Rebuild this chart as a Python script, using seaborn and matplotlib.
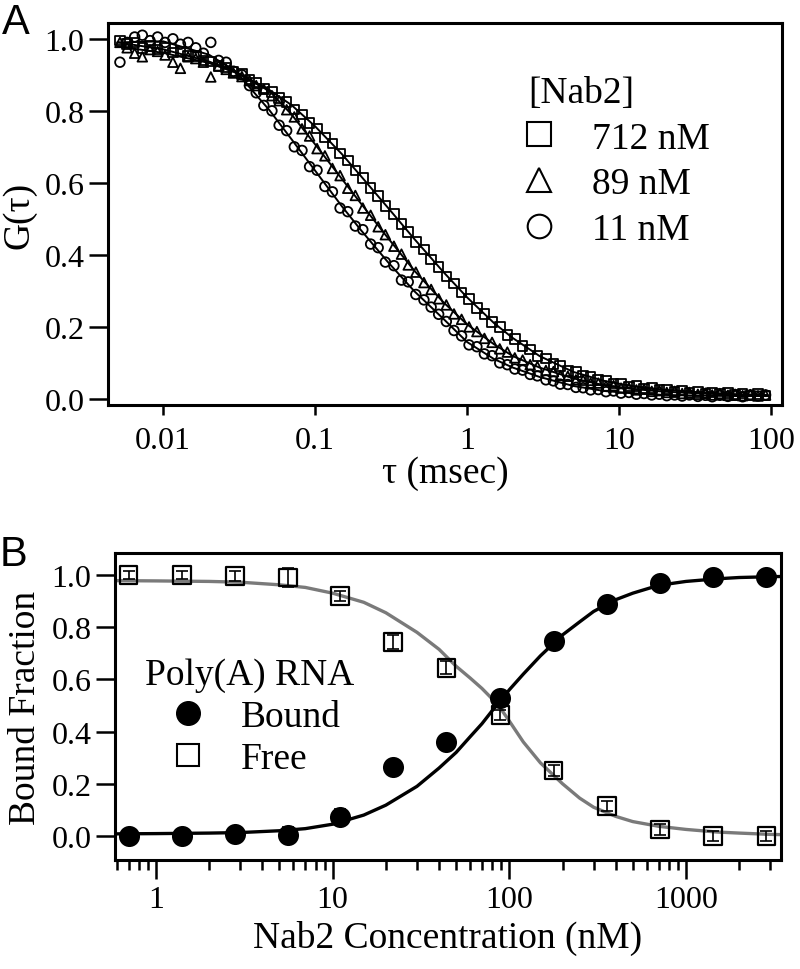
import numpy as np
import pandas as pd
import matplotlib
matplotlib.use("Agg")
import matplotlib.pyplot as plt
from matplotlib.lines import Line2D
import seaborn as sns

# ---------------- Panel A: FCS autocorrelation curves ----------------
tau = [0.0052, 0.0058, 0.0065, 0.0073, 0.0082, 0.0092, 0.0103, 0.0116, 0.013, 0.0146,
       0.0164, 0.0184, 0.0206, 0.0232, 0.026, 0.029, 0.033, 0.037, 0.041, 0.046,
       0.052, 0.058, 0.065, 0.073, 0.082, 0.092, 0.103, 0.116, 0.13, 0.146,
       0.164, 0.184, 0.206, 0.232, 0.26, 0.29, 0.33, 0.37, 0.41, 0.46,
       0.52, 0.58, 0.65, 0.73, 0.82, 0.92, 1.03, 1.16, 1.3, 1.46,
       1.64, 1.84, 2.06, 2.32, 2.6, 2.9, 3.3, 3.7, 4.1, 4.6,
       5.2, 5.8, 6.5, 7.3, 8.2, 9.2, 10.3, 11.6, 13, 14.6,
       16.4, 18.4, 20.6, 23.2, 26, 29, 33, 37, 41, 46,
       52, 58, 65, 73, 82, 92]

g_712 = [0.995, 0.985, 0.99, 0.975, 0.98, 0.97, 0.975, 0.962, 0.965, 0.952,
         0.952, 0.94, 0.937, 0.925, 0.92, 0.908, 0.902, 0.887, 0.879, 0.862,
         0.853, 0.835, 0.825, 0.804, 0.79, 0.767, 0.751, 0.726, 0.709, 0.682,
         0.662, 0.634, 0.614, 0.585, 0.564, 0.535, 0.514, 0.485, 0.464, 0.435,
         0.415, 0.387, 0.367, 0.34, 0.321, 0.295, 0.277, 0.252, 0.236, 0.213,
         0.199, 0.178, 0.166, 0.147, 0.137, 0.12, 0.112, 0.097, 0.091, 0.078,
         0.074, 0.063, 0.061, 0.052, 0.051, 0.043, 0.043, 0.035, 0.036, 0.029,
         0.03, 0.024, 0.026, 0.02, 0.023, 0.017, 0.02, 0.015, 0.018, 0.013,
         0.016, 0.011, 0.015, 0.01, 0.014, 0.01]

g_89 = [0.99, 0.975, 0.96, 0.95, 0.97, 0.965, 0.955, 0.935, 0.918, 0.95,
        0.945, 0.935, 0.894, 0.925, 0.915, 0.905, 0.895, 0.884, 0.87, 0.86,
        0.842, 0.828, 0.803, 0.783, 0.75, 0.73, 0.695, 0.675, 0.64, 0.62,
        0.585, 0.565, 0.53, 0.51, 0.478, 0.456, 0.424, 0.402, 0.372, 0.352,
        0.323, 0.304, 0.278, 0.261, 0.236, 0.221, 0.2, 0.187, 0.168, 0.157,
        0.139, 0.13, 0.114, 0.108, 0.095, 0.09, 0.079, 0.076, 0.065, 0.063,
        0.053, 0.052, 0.044, 0.044, 0.036, 0.037, 0.03, 0.031, 0.025, 0.027,
        0.021, 0.023, 0.018, 0.021, 0.015, 0.018, 0.013, 0.016, 0.011, 0.015,
        0.01, 0.013, 0.009, 0.012, 0.008, 0.011]

g_11 = [0.935, 0.99, 1.005, 1.01, 0.995, 1.005, 0.99, 1.0, 0.985, 0.99,
        0.975, 0.96, 0.99, 0.94, 0.935, 0.91, 0.9, 0.87, 0.85, 0.815,
        0.8, 0.76, 0.745, 0.70, 0.69, 0.645, 0.635, 0.59, 0.575, 0.53,
        0.52, 0.48, 0.47, 0.43, 0.42, 0.38, 0.37, 0.33, 0.325, 0.29,
        0.275, 0.255, 0.235, 0.215, 0.19, 0.175, 0.15, 0.145, 0.125, 0.12,
        0.10, 0.095, 0.083, 0.08, 0.068, 0.064, 0.053, 0.05, 0.041, 0.04,
        0.032, 0.031, 0.025, 0.026, 0.02, 0.022, 0.016, 0.018, 0.013, 0.015,
        0.011, 0.013, 0.009, 0.011, 0.008, 0.011, 0.007, 0.01, 0.006, 0.01,
        0.007, 0.01, 0.006, 0.011, 0.008, 0.011]

# fitted curves
tau_fit = [0.005, 0.01, 0.02, 0.03, 0.05, 0.07, 0.1, 0.15, 0.2, 0.3, 0.45, 0.7,
           1, 1.5, 2, 3, 5, 8, 12, 20, 35, 60, 95]
fit_712 = [0.99, 0.971, 0.937, 0.909, 0.858, 0.816, 0.757, 0.68, 0.619, 0.532, 0.444, 0.352,
           0.282, 0.211, 0.169, 0.119, 0.075, 0.05, 0.036, 0.025, 0.018, 0.013, 0.011]
fit_89 = [0.979, 0.961, 0.933, 0.906, 0.855, 0.79, 0.707, 0.611, 0.543, 0.448, 0.356, 0.268,
          0.207, 0.152, 0.119, 0.087, 0.057, 0.038, 0.028, 0.02, 0.015, 0.011, 0.009]
fit_11 = [0.99, 0.993, 0.956, 0.91, 0.802, 0.721, 0.634, 0.535, 0.469, 0.381, 0.299, 0.222,
          0.158, 0.111, 0.087, 0.061, 0.036, 0.022, 0.016, 0.011, 0.009, 0.008, 0.008]

nab2_labels = ["712 nM", "89 nM", "11 nM"]

# ---------------- Panel B: binding titration ----------------
conc = [0.7, 1.4, 2.8, 5.6, 11, 22, 44, 89, 178, 356, 712, 1424, 2848]
bound = [0.0, 0.0, 0.008, 0.005, 0.073, 0.264, 0.36, 0.53, 0.748, 0.889, 0.969, 0.993, 0.993]
bound_err = [0.02, 0.015, 0.015, 0.03, 0.03, 0.02, 0.02, 0.02, 0.02, 0.02, 0.02, 0.015, 0.015]
free = [1.0, 1.0, 0.996, 0.99, 0.92, 0.743, 0.644, 0.464, 0.25, 0.115, 0.024, 0.0, 0.0]
free_err = [0.015, 0.015, 0.02, 0.035, 0.02, 0.025, 0.025, 0.02, 0.02, 0.02, 0.02, 0.02, 0.02]

conc_fit = [0.6, 1, 2, 3, 5, 7, 10, 15, 20, 30, 40, 50, 60, 70, 80, 90, 100, 120, 150,
            200, 250, 300, 400, 500, 700, 1000, 1500, 2000, 3000, 3500]
bound_fit = [0.008, 0.009, 0.011, 0.013, 0.02, 0.028, 0.045, 0.08, 0.118, 0.19, 0.26, 0.32,
             0.38, 0.43, 0.48, 0.52, 0.56, 0.62, 0.69, 0.77, 0.82, 0.86, 0.905, 0.93, 0.96,
             0.975, 0.985, 0.99, 0.993, 0.994]
free_fit = [0.978, 0.977, 0.975, 0.972, 0.962, 0.952, 0.93, 0.895, 0.855, 0.78, 0.715, 0.65,
            0.605, 0.565, 0.525, 0.485, 0.44, 0.36, 0.28, 0.2, 0.145, 0.11, 0.075, 0.055,
            0.037, 0.025, 0.015, 0.011, 0.006, 0.005]

sns.set_style("ticks")
plt.rcParams['font.family'] = ['Liberation Serif', 'DejaVu Serif']
plt.rcParams.update({
    "axes.edgecolor": "black", "axes.labelcolor": "black", "text.color": "black",
    "xtick.color": "black", "ytick.color": "black",
})

fig = plt.figure(figsize=(8, 9.7), dpi=100)
axA = fig.add_axes([0.135, 0.5814, 0.8425, 0.3939])
axB = fig.add_axes([0.14375, 0.1124, 0.8325, 0.3165])

TICK_FS = 23
LABEL_FS = 27

# --- panel A
dfA = pd.DataFrame({
    "tau": tau * 3,
    "G": g_712 + g_89 + g_11,
    "Nab2": [nab2_labels[0]] * len(tau) + [nab2_labels[1]] * len(tau) + [nab2_labels[2]] * len(tau),
})
markers_A = {"712 nM": "s", "89 nM": "^", "11 nM": "o"}
for lab, fit in zip(nab2_labels, [fit_712, fit_89, fit_11]):
    sub = dfA[dfA["Nab2"] == lab]
    sns.scatterplot(data=sub, x="tau", y="G", marker=markers_A[lab], s=48,
                    color="black", facecolor="none", edgecolor="black",
                    linewidth=1.3, ax=axA, legend=False, zorder=3)
    sns.lineplot(x=tau_fit, y=fit, color="black", lw=1.4, ax=axA, zorder=2)

axA.set_xscale("log")
axA.set_xlim(0.00434, 118)
axA.set_ylim(-0.017, 1.044)
axA.set_xticks([0.01, 0.1, 1, 10, 100])
axA.set_xticklabels(["0.01", "0.1", "1", "10", "100"])
axA.xaxis.set_minor_locator(matplotlib.ticker.NullLocator())
axA.set_yticks([0.0, 0.2, 0.4, 0.6, 0.8, 1.0])
axA.set_yticklabels(["0.0", "0.2", "0.4", "0.6", "0.8", "1.0"])
axA.tick_params(axis="y", length=14, width=1.8, labelsize=TICK_FS, pad=3)
axA.tick_params(axis="x", length=7, width=1.8, labelsize=TICK_FS, pad=8)
axA.set_xlabel("τ (msec)", fontsize=LABEL_FS, labelpad=0)
axA.set_ylabel("G(τ)", fontsize=LABEL_FS, labelpad=6)

handlesA = [Line2D([], [], ls="none", marker=markers_A[l], ms=17, mfc="none",
                   mec="black", mew=1.5) for l in nab2_labels]
axA.legend(handlesA, nab2_labels, title="[Nab2]", loc="upper left",
           bbox_to_anchor=(0.623, 0.863), frameon=False, fontsize=LABEL_FS,
           title_fontsize=LABEL_FS, alignment="left", handlelength=0.6,
           handletextpad=1.1, labelspacing=0.3, borderpad=0, borderaxespad=0)

# --- panel B
sns.lineplot(x=conc_fit, y=free_fit, color="#7a7a7a", lw=2.4, ax=axB, zorder=2)
sns.lineplot(x=conc_fit, y=bound_fit, color="black", lw=2.4, ax=axB, zorder=2)
axB.errorbar(conc, free, yerr=free_err, fmt="none", ecolor="black", elinewidth=1.2,
             capsize=4, capthick=1.2, zorder=3)
sns.scatterplot(x=conc, y=free, marker="s", s=160, color="black", facecolor="none",
                edgecolor="black", linewidth=1.6, ax=axB, legend=False, zorder=4)
axB.errorbar(conc, bound, yerr=bound_err, fmt="none", ecolor="black", elinewidth=1.2,
             capsize=4, capthick=1.2, zorder=3)
sns.scatterplot(x=conc, y=bound, marker="o", s=230, color="black", edgecolor="black",
                linewidth=0, ax=axB, legend=False, zorder=5)

axB.set_xscale("log")
axB.set_xlim(0.586, 3450)
axB.set_ylim(-0.092, 1.084)
axB.set_xticks([1, 10, 100, 1000])
axB.set_xticklabels(["1", "10", "100", "1000"])
axB.xaxis.set_minor_locator(matplotlib.ticker.LogLocator(base=10, subs=np.arange(2, 10)))
axB.xaxis.set_minor_formatter(matplotlib.ticker.NullFormatter())
axB.set_yticks([0.0, 0.2, 0.4, 0.6, 0.8, 1.0])
axB.set_yticklabels(["0.0", "0.2", "0.4", "0.6", "0.8", "1.0"])
axB.tick_params(axis="y", length=14, width=1.8, labelsize=TICK_FS, pad=3)
axB.tick_params(axis="x", which="major", length=14, width=1.8, labelsize=TICK_FS, pad=4)
axB.tick_params(axis="x", which="minor", length=7, width=1.8)
axB.set_xlabel("Nab2 Concentration (nM)", fontsize=LABEL_FS, labelpad=4)
axB.set_ylabel("Bound Fraction", fontsize=LABEL_FS, labelpad=6)

handlesB = [Line2D([], [], ls="none", marker="o", ms=17, mfc="black", mec="black"),
            Line2D([], [], ls="none", marker="s", ms=16, mfc="none", mec="black", mew=1.5)]
axB.legend(handlesB, ["Bound", "Free"], title="Poly(A) RNA", loc="upper left",
           bbox_to_anchor=(0.045, 0.66), frameon=False, fontsize=LABEL_FS,
           title_fontsize=LABEL_FS, alignment="left", handlelength=2.3,
           handletextpad=0.25, labelspacing=0.2, borderpad=0, borderaxespad=0)

for ax in (axA, axB):
    for side in ("top", "right", "bottom", "left"):
        ax.spines[side].set_visible(True)
        ax.spines[side].set_linewidth(2.2)

fig.text(0.003, 0.976, "A", fontsize=30, family="Liberation Sans", va="center")
fig.text(0.0, 0.428, "B", fontsize=30, family="Liberation Sans", va="center")

fig.savefig("out.png", dpi=100)
